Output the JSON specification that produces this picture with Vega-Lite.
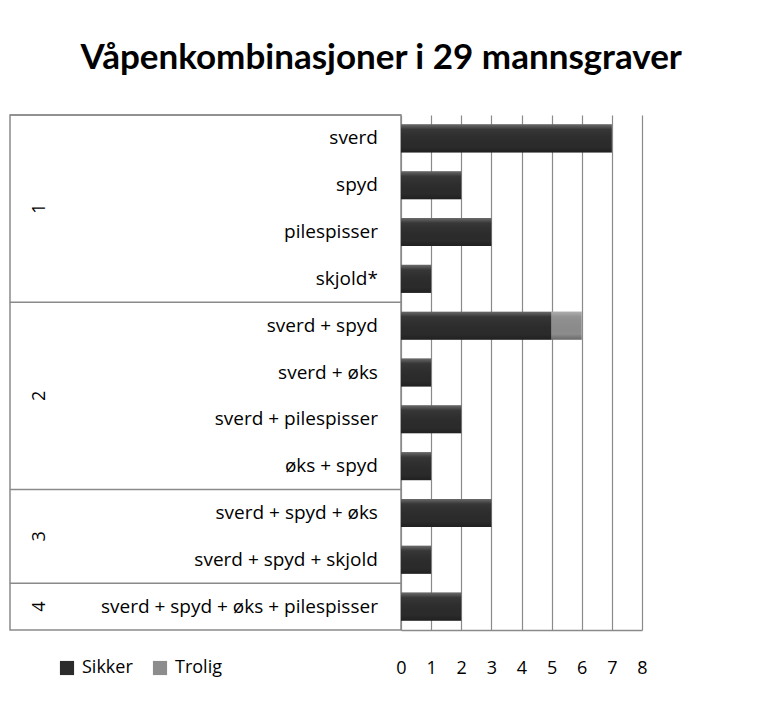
{
  "$schema": "https://vega.github.io/schema/vega-lite/v6.json",
  "padding": {"left": 8, "top": 40, "right": 0, "bottom": 0},
  "bounds": "flush",
  "title": {"text": "Våpenkombinasjoner  i 29 mannsgraver", "font": "Lato", "fontSize": 35, "fontWeight": "bold", "color": "#000", "anchor": "start", "dx": 72, "offset": 38},
  "datasets": {
    "bars": [
      {"group": "1", "label": "sverd ", "type": "Sikker", "count": 7},
      {"group": "1", "label": "spyd", "type": "Sikker", "count": 2},
      {"group": "1", "label": "pilespisser", "type": "Sikker", "count": 3},
      {"group": "1", "label": "skjold*", "type": "Sikker", "count": 1},
      {"group": "2", "label": "sverd + spyd", "type": "Sikker", "count": 5},
      {"group": "2", "label": "sverd + spyd", "type": "Trolig", "count": 1},
      {"group": "2", "label": "sverd + øks", "type": "Sikker", "count": 1},
      {"group": "2", "label": "sverd + pilespisser", "type": "Sikker", "count": 2},
      {"group": "2", "label": "øks + spyd", "type": "Sikker", "count": 1},
      {"group": "3", "label": "sverd + spyd + øks", "type": "Sikker", "count": 3},
      {"group": "3", "label": "sverd + spyd + skjold", "type": "Sikker", "count": 1},
      {"group": "4", "label": "sverd + spyd + øks + pilespisser", "type": "Sikker", "count": 2}
    ],
    "groups": [
      {"group": "1", "first": "sverd ", "mid": "pilespisser", "rows": 4},
      {"group": "2", "first": "sverd + spyd", "mid": "sverd + pilespisser", "rows": 4},
      {"group": "3", "first": "sverd + spyd + øks", "mid": "sverd + spyd + skjold", "rows": 2},
      {"group": "4", "first": "sverd + spyd + øks + pilespisser", "mid": "sverd + spyd + øks + pilespisser", "rows": 1}
    ]
  },
  "spacing": 0,
  "hconcat": [
    {
      "width": 391,
      "height": 515,
      "view": {"stroke": "#8a8a8a", "strokeWidth": 1.5},
      "layer": [
        {
          "data": {"name": "groups"},
          "mark": {"type": "rule", "color": "#8a8a8a", "strokeWidth": 1.5},
          "encoding": {
            "y": {"field": "first", "type": "nominal", "bandPosition": 0, "axis": null,
                  "scale": {"domain": ["sverd ", "spyd", "pilespisser", "skjold*", "sverd + spyd", "sverd + øks", "sverd + pilespisser", "øks + spyd", "sverd + spyd + øks", "sverd + spyd + skjold", "sverd + spyd + øks + pilespisser"], "paddingInner": 0, "paddingOuter": 0}}
          }
        },
        {
          "data": {"name": "bars"},
          "transform": [{"filter": "datum.type == 'Sikker'"}],
          "mark": {"type": "text", "align": "right", "baseline": "middle", "font": "Open Sans", "fontSize": 19, "color": "#000"},
          "encoding": {
            "y": {"field": "label", "type": "nominal", "axis": null},
            "x": {"datum": 0.941, "type": "quantitative", "scale": {"domain": [0, 1]}, "axis": null},
            "text": {"field": "label"}
          }
        },
        {
          "data": {"name": "groups"},
          "transform": [{"filter": "datum.rows > 1"}],
          "mark": {"type": "text", "align": "center", "baseline": "middle", "angle": 270, "font": "Open Sans", "fontSize": 18, "color": "#000"},
          "encoding": {
            "y": {"field": "mid", "type": "nominal", "bandPosition": 0, "axis": null},
            "x": {"datum": 0.077, "type": "quantitative"},
            "text": {"field": "group"}
          }
        },
        {
          "data": {"name": "groups"},
          "transform": [{"filter": "datum.rows == 1"}],
          "mark": {"type": "text", "align": "center", "baseline": "middle", "angle": 270, "font": "Open Sans", "fontSize": 18, "color": "#000"},
          "encoding": {
            "y": {"field": "mid", "type": "nominal", "bandPosition": 0.5, "axis": null},
            "x": {"datum": 0.077, "type": "quantitative"},
            "text": {"field": "group"}
          }
        }
      ]
    },
    {
      "width": 241,
      "height": 515,
      "data": {"name": "bars"},
      "encoding": {
        "y": {"field": "label", "type": "nominal", "axis": null},
        "x": {"field": "count", "type": "quantitative", "stack": "zero",
              "scale": {"domain": [0, 8], "nice": false},
              "axis": {"values": [0, 1, 2, 3, 4, 5, 6, 7, 8], "title": null, "grid": true, "gridColor": "#8a8a8a", "gridWidth": 1.2, "ticks": false, "domainColor": "#8a8a8a", "domainWidth": 1.5, "labelPadding": 29, "labelFontSize": 18, "labelFont": "Open Sans", "labelColor": "#000", "labelFlush": false}}
      },
      "layer": [
        {
          "mark": {"type": "bar", "height": {"band": 0.6}},
          "encoding": {
            "color": {"field": "type", "type": "nominal",
                      "scale": {"domain": ["Sikker", "Trolig"], "range": ["#2b2b2b", "#8c8c8c"]},
                      "legend": {"title": null, "orient": "none", "legendX": 48, "legendY": 544, "direction": "horizontal", "symbolType": "square", "symbolSize": 200, "symbolStrokeWidth": 0, "labelFontSize": 18, "labelFont": "Open Sans", "labelColor": "#000", "columnPadding": 18, "labelOffset": 6}}
          }
        },
        {
          "mark": {"type": "bar", "height": {"band": 0.6},
                   "fill": {"gradient": "linear", "x1": 0, "y1": 0, "x2": 0, "y2": 1,
                            "stops": [{"offset": 0, "color": "rgba(255,255,255,0.30)"}, {"offset": 0.18, "color": "rgba(255,255,255,0.06)"}, {"offset": 0.8, "color": "rgba(0,0,0,0)"}, {"offset": 1, "color": "rgba(0,0,0,0.25)"}]}}
        }
      ]
    }
  ],
  "resolve": {"scale": {"y": "shared"}},
  "config": {"view": {"stroke": null}, "font": "Open Sans"}
}
